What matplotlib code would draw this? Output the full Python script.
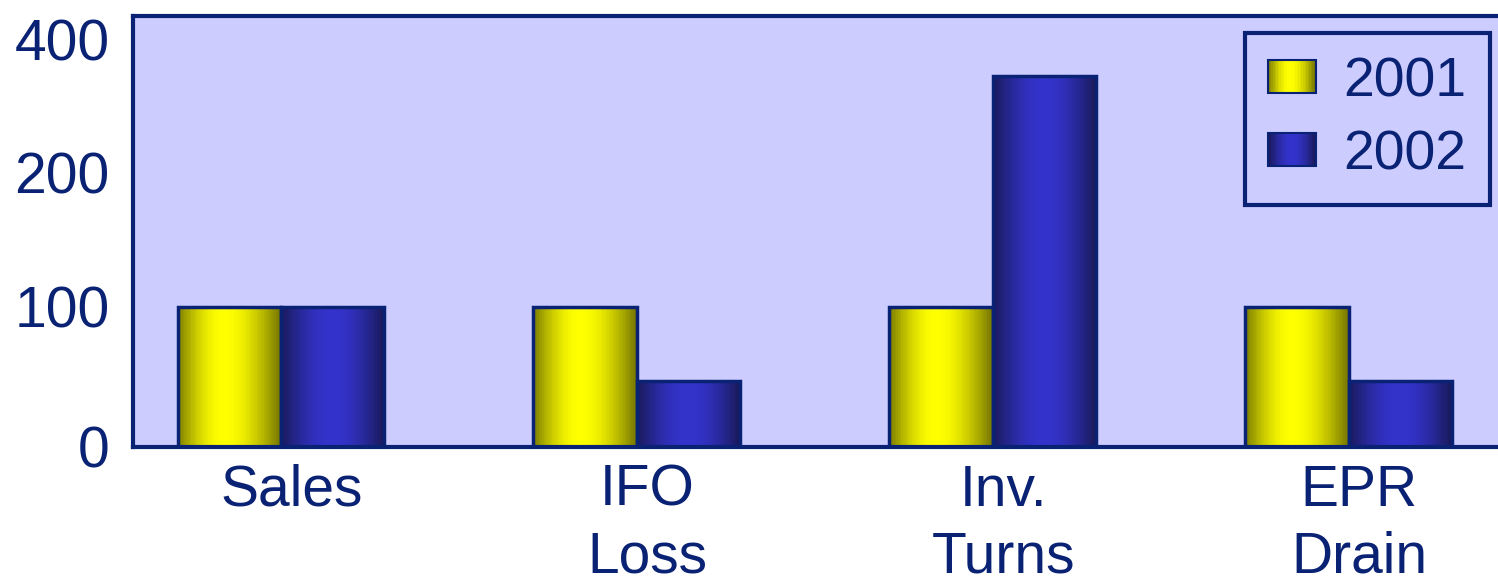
import numpy as np
import matplotlib
matplotlib.use("Agg")
import matplotlib.pyplot as plt
from matplotlib.legend_handler import HandlerBase
from matplotlib.patches import Rectangle

categories = ["Sales", "IFO\nLoss", "Inv.\nTurns", "EPR\nDrain"]
series_names = ["2001", "2002"]
values_2001 = [100, 100, 100, 100]
values_2002 = [100, 47, 346, 47]
yticks = [0, 100, 200, 400]

NAVY = "#0a2274"
BG = "#ccccff"

plt.rcParams['font.family'] = ['Liberation Sans', 'DejaVu Sans']

# piecewise-linear axis (as in the reference: 0,100,200,400 roughly equally spaced)
v_pts = np.array([0, 100, 200, 400, 1000])
p_pts = np.array([0, 140, 274, 407, 806], dtype=float)
def fwd(v):
    return np.interp(v, v_pts, p_pts)
def inv(p):
    return np.interp(p, p_pts, v_pts)

def grad_colors(kind, n):
    t = np.linspace(0, 1, n)
    if kind == 0:
        dark_l = np.array([0.50, 0.50, 0.0]); bright = np.array([1.0, 1.0, 0.0]); dark_r = np.array([0.47, 0.47, 0.0])
        peak = 0.45
    else:
        dark_l = np.array([0.10, 0.10, 0.36]); bright = np.array([0.20, 0.20, 0.80]); dark_r = np.array([0.10, 0.10, 0.36])
        peak = 0.5
    cols = []
    for ti in t:
        if ti < peak:
            s = np.sin((ti / peak) * np.pi / 2)
            c = dark_l + (bright - dark_l) * s
        else:
            s2 = 1 - np.cos(((ti - peak) / (1 - peak)) * np.pi / 2)
            c = bright + (dark_r - bright) * s2
        cols.append(np.clip(c, 0, 1))
    return cols

fig = plt.figure(figsize=(14.98, 5.83), dpi=100)
ax = fig.add_axes([0.0888, 0.2333, 0.9112, 0.7393])
ax.set_facecolor(BG)
ax.set_yscale('function', functions=(fwd, inv))

x = np.arange(len(categories))
w = 0.29
N = 60
for k, vals in enumerate([values_2001, values_2002]):
    cols = grad_colors(k, N)
    offs = (k - 0.5) * w
    for xi, v in zip(x, vals):
        left = xi + offs - w / 2
        sw = w / N
        lefts = left + sw * np.arange(N)
        ax.bar(lefts, [v] * N, width=sw * 1.02, align='edge', color=cols, linewidth=0, zorder=2)
        ax.bar(xi + offs, v, width=w, facecolor='none', edgecolor=NAVY, linewidth=2.5, zorder=3)

ax.set_xlim(-0.415, 3.42)
ax.set_ylim(0, inv(431))
ax.set_yticks(yticks)
ax.set_yticklabels([str(t) for t in yticks])
ax.set_xticks(x + 0.03)
ax.set_xticklabels(categories, linespacing=1.3)
ax.tick_params(axis='both', length=0, labelsize=41, colors=NAVY)
ax.tick_params(axis='y', pad=17)
ax.tick_params(axis='x', pad=12)
for s in ['left', 'bottom', 'top']:
    ax.spines[s].set_color(NAVY)
    ax.spines[s].set_linewidth(3)
ax.spines['right'].set_visible(False)


class GradHandler(HandlerBase):
    def __init__(self, kind):
        super().__init__()
        self.kind = kind
    def create_artists(self, legend, orig_handle, xdescent, ydescent, width, height, fontsize, trans):
        n = 30
        cols = grad_colors(self.kind, n)
        arts = []
        sw = width / n
        for i, c in enumerate(cols):
            r = Rectangle((-xdescent + i * sw, -ydescent), sw * 1.05, height, facecolor=c, linewidth=0, transform=trans)
            arts.append(r)
        arts.append(Rectangle((-xdescent, -ydescent), width, height, facecolor='none', edgecolor=NAVY, linewidth=1.5, transform=trans))
        return arts

h1 = Rectangle((0, 0), 1, 1)
h2 = Rectangle((0, 0), 1, 1)
leg = ax.legend([h1, h2], series_names, handler_map={h1: GradHandler(0), h2: GradHandler(1)},
                loc='upper right', bbox_to_anchor=(0.994, 0.9606), borderaxespad=0, fontsize=40, frameon=True,
                fancybox=False, facecolor=BG, edgecolor=NAVY, labelcolor=NAVY,
                handlelength=0.85, handleheight=0.55, handletextpad=0.5, labelspacing=0.38,
                borderpad=0.42, framealpha=1)
leg.get_frame().set_linewidth(3)

fig.savefig("out.png", dpi=100, facecolor='white')
